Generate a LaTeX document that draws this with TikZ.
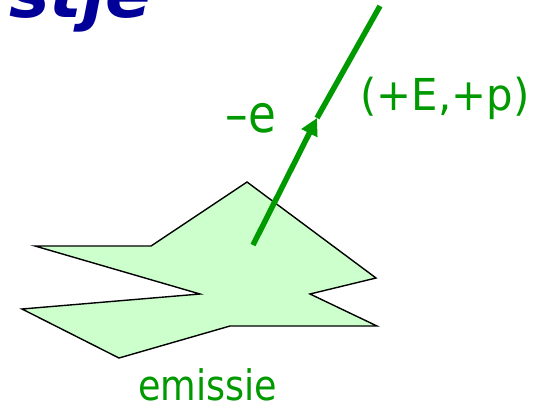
\documentclass[tikz,border=0pt]{standalone}
\usepackage{fontspec}
\usetikzlibrary{arrows.meta}
\newfontfamily\labfont[FakeStretch=0.87]{DejaVu Sans}
\newfontfamily\labfontw[FakeStretch=0.95]{DejaVu Sans}
\newfontfamily\ttlfont{DejaVu Sans}
\definecolor{lgreen}{HTML}{CCFFCC}
\definecolor{dgreen}{HTML}{009900}
\definecolor{tblue}{HTML}{000099}
\begin{document}
\begin{tikzpicture}[x=1pt,y=-1pt,
  lab/.style={text=dgreen,inner sep=0pt,anchor=base},
  blob/.style={draw=black,fill=lgreen,line width=1.4pt,line join=miter},
  ray/.style={draw=dgreen,line width=5.5pt},
  title/.style={text=tblue,font=\ttlfont\bfseries\itshape\fontsize{68}{72}\selectfont,inner sep=0pt}]
\useasboundingbox (0,0) rectangle (548,408);
\begin{scope}
\clip (0,0) rectangle (548,408);
\node[title,anchor=base east] (ttl) at (152,17) {stje};
\end{scope}
\draw[blob] (247,182) -- (376,278) -- (310,294) -- (377,326) -- (230,326)
  -- (119,358) -- (22,309) -- (200,294) -- (35,246) -- (151,246) -- cycle;
\coordinate (src) at (253,245);
\coordinate (mid) at (317,118);
\coordinate (top) at (380,6);
\draw[ray,-{Triangle[length=17pt,width=17pt]}] (src) -- (mid);
\draw[ray] (mid) -- (top);
\node[lab,font=\labfont\fontsize{42}{48}\selectfont] (emi) at (207.5,400) {emissie};
\node[lab,font=\labfontw\fontsize{44}{50}\selectfont] (ep) at (445,110) {(+E,+p)};
\node[lab,font=\labfont\fontsize{52}{58}\selectfont] (e) at (251,132) {–e};
\end{tikzpicture}
\end{document}
